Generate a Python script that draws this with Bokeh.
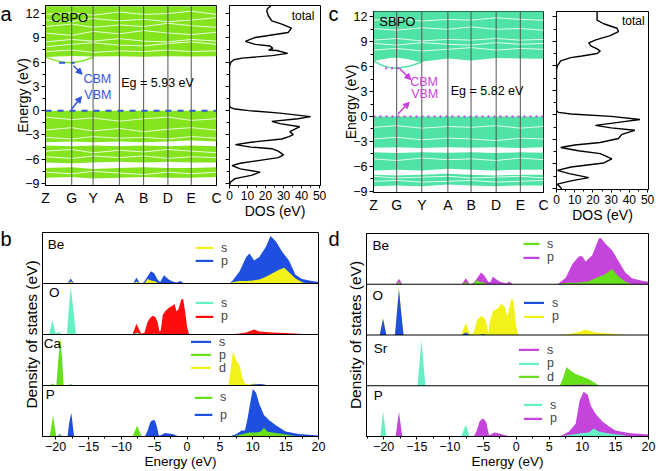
from bokeh.plotting import figure
from bokeh.layouts import row, column
from bokeh.models import (Span, Label, Arrow, NormalHead, SingleIntervalTicker, FixedTicker,
                          Legend, LegendItem, Range1d)
from bokeh.embed import file_html
from bokeh.resources import INLINE

FONT = "Liberation Sans"

# ------------------------------------------------------------------ data
kpoint_labels = ["Z", "G", "Y", "A", "B", "D", "E", "C"]
kpath_cbpo = [0, 27, 49, 76, 101, 126, 150, 176]
kpath_sbpo = [0, 24, 50, 77, 101, 127, 152, 176]

# band manifolds (lower / upper edge at each k point), eV
cbpo_blocks_lo = [[-3.9, -3.8, -3.9, -3.8, -3.9, -3.8, -3.7, -3.8],
                  [-6.4, -6.5, -6.4, -6.3, -6.4, -6.3, -6.4, -6.4],
                  [-8.3, -8.2, -8.4, -8.3, -8.2, -8.3, -8.3, -8.2],
                  [6.62, 6.75, 6.70, 6.72, 6.68, 6.72, 6.70, 6.72]]
cbpo_blocks_hi = [[0, 0, 0, 0, 0, 0, 0, 0],
                  [-4.3, -4.4, -4.3, -4.4, -4.3, -4.4, -4.3, -4.4],
                  [-7.1, -7.0, -7.2, -7.1, -7.0, -7.1, -7.1, -7.0],
                  [12.9, 12.9, 12.9, 12.9, 12.9, 12.9, 12.9, 12.9]]
cbpo_gaps = [[7.3, 7.5, 7.2, 7.4, 7.3, 7.5, 7.3, 7.4],
             [7.9, 8.2, 8.4, 8.1, 8.0, 8.3, 8.5, 8.2],
             [8.5, 8.8, 8.6, 8.9, 8.6, 8.5, 8.8, 8.6],
             [9.6, 9.3, 9.8, 9.5, 9.9, 9.6, 9.4, 9.7],
             [10.4, 10.7, 10.3, 10.6, 10.4, 10.8, 10.5, 10.3],
             [11.2, 11.0, 11.4, 11.1, 11.3, 11.0, 11.2, 11.5],
             [11.9, 12.1, 11.8, 12.2, 11.9, 12.0, 12.3, 11.9],
             [-0.8, -1.1, -0.9, -1.3, -1.0, -0.8, -1.2, -1.0],
             [-2.4, -2.1, -2.5, -2.2, -2.6, -2.3, -2.1, -2.4],
             [-3.3, -3.5, -3.2, -3.4, -3.3, -3.5, -3.2, -3.4],
             [-5.0, -4.8, -5.2, -4.9, -5.1, -4.8, -5.0, -5.2],
             [-5.7, -5.9, -5.6, -5.8, -5.6, -5.9, -5.7, -5.8],
             [-7.6, -7.8, -7.5, -7.7, -7.9, -7.6, -7.8, -7.6]]
cbpo_cbm_k = [0, 9, 18, 27, 38, 49]
cbpo_cbm_E = [6.62, 6.25, 6.0, 5.93, 6.15, 6.6]
cbpo_gap = 5.93

sbpo_blocks_lo = [[-3.75, -3.7, -3.8, -3.7, -3.75, -3.7, -3.8, -3.7],
                  [-6.5, -6.4, -6.5, -6.3, -6.4, -6.5, -6.4, -6.4],
                  [-8.4, -8.3, -8.4, -8.2, -8.3, -8.4, -8.3, -8.3],
                  [6.75, 7.2, 6.6, 7.0, 6.75, 7.05, 7.0, 6.95]]
sbpo_blocks_hi = [[0, 0, 0, 0, 0, 0, 0, 0],
                  [-4.3, -4.4, -4.3, -4.35, -4.3, -4.4, -4.3, -4.35],
                  [-7.0, -7.1, -7.0, -6.9, -7.0, -7.1, -7.0, -7.0],
                  [12.75, 12.75, 12.75, 12.75, 12.75, 12.75, 12.75, 12.75]]
sbpo_gaps = [[8.0, 8.2, 7.9, 8.1, 8.3, 8.0, 8.2, 8.1],
             [8.8, 8.6, 8.9, 8.7, 8.6, 8.9, 8.7, 8.8],
             [9.2, 9.4, 9.1, 9.3, 9.2, 9.4, 9.2, 9.3],
             [10.6, 10.4, 10.7, 10.5, 10.8, 10.5, 10.6, 10.4],
             [11.6, 11.8, 11.5, 11.7, 11.6, 11.9, 11.7, 11.6],
             [-1.3, -1.1, -1.4, -1.2, -1.3, -1.1, -1.4, -1.2],
             [-2.7, -2.5, -2.8, -2.6, -2.7, -2.9, -2.6, -2.7],
             [-5.1, -5.3, -5.0, -5.2, -5.1, -5.3, -5.0, -5.2],
             [-7.2, -7.4, -7.3, -7.2, -7.4, -7.3, -7.2, -7.4],
             [-7.8, -7.7, -7.9, -7.8, -7.7, -7.9, -7.8, -7.7]]
sbpo_cbm_k = [0, 8, 16, 24, 37, 50]
sbpo_cbm_E = [6.7, 6.2, 5.92, 5.82, 6.05, 6.55]
sbpo_lens_E = [6.75, 7.0, 7.15, 7.2, 7.0, 6.6]
sbpo_gap = 5.82

# total DOS (energy, DOS)
cbpo_dos_E = [12.96, 12.6, 12.3, 11.7, 11.1, 10.7, 10.2, 9.67, 9.05, 8.56, 8.2, 8.0, 7.7, 7.5, 7.44,
              7.08, 6.8, 6.5, 6.3, 6.0, 5.5, 0.6, 0.4, 0.2, 0.0, -0.3, -0.74, -1.0, -1.32, -1.6,
              -1.98, -2.3, -2.6, -2.96, -3.2, -3.5, -3.9, -4.2, -4.5, -4.7, -5.0, -5.47, -5.8,
              -6.2, -6.5, -6.8, -7.2, -7.6, -8.0, -8.4, -8.85, -9.2]
cbpo_dos = [23, 21, 20.7, 21.6, 23.5, 29, 34.4, 32.6, 14.3, 8.8, 14.3, 22.5, 24, 21.7, 26.2,
            32.3, 23.5, 7, 2.4, 0.8, 0, 0, 0.5, 3, 10.7, 28, 45, 38, 23.5, 28,
            39, 36, 33.5, 35.4, 33, 29, 12, 3.3, 12, 23.5, 27, 30, 27,
            15, 6, 1.4, 6, 17, 12, 3, 0.5, 0]
sbpo_dos_E = [12.7, 12.0, 11.6, 11.15, 10.6, 10.2, 9.7, 9.2, 8.8, 8.4, 8.08, 7.8, 7.5, 7.2, 7.0,
              6.6, 6.0, 5.5, 0.5, 0.3, 0.1, -0.2, -0.58, -0.9, -1.3, -1.6, -1.9, -2.4, -2.9,
              -3.4, -3.7, -4.0, -4.4, -4.75, -5.4, -5.9, -6.4, -6.8, -7.2, -7.7, -8.1, -8.5, -9.1]
sbpo_dos = [22.3, 22.3, 22.3, 25.9, 33.2, 34, 29.5, 22, 17.7, 19, 22.3, 24, 22.3, 14, 7.8,
            2.3, 0.5, 0, 0, 1, 8, 30, 45.8, 35, 21.4, 30, 43, 35.9, 34,
            24, 10, 2.3, 12, 24, 30.4, 25.9, 8, 0.5, 7, 17.7, 8, 0.5, 3]

# projected DOS, panel b (CBPO)
b_be_s_E = [-22, -18.2, -17.7, -17.2, -8.2, -7.7, -7.2, -6.5, -6.0, -5.5, -4.8, -4.3, 6.5, 7, 8, 9, 10,
            11, 12, 13, 14, 14.8, 15.5, 16.5, 17.5, 18, 20]
b_be_s = [0, 0, 0.04, 0, 0, 0.04, 0, 0, 0.09, 0.06, 0.04, 0, 0, 0.03, 0.05, 0.05, 0.06,
          0.08, 0.13, 0.2, 0.27, 0.31, 0.22, 0.1, 0.03, 0, 0]
b_be_p_E = [-22, -18.2, -17.7, -17.2, -8.2, -7.7, -7.2, -6.6, -6.0, -5.5, -5.0, -4.5, -4.1, -3.5, -2.8,
            -2.2, -1.6, -1.0, -0.5, 6.5, 7, 8, 9, 9.5, 10.2, 11, 12, 12.7, 13.5, 14.5, 15.5, 16.5,
            17.5, 19, 20]
b_be_p = [0, 0, 0.10, 0, 0, 0.12, 0, 0.02, 0.14, 0.24, 0.2, 0.08, 0.03, 0.16, 0.08,
          0.04, 0.02, 0.05, 0, 0, 0.07, 0.24, 0.52, 0.59, 0.45, 0.52, 0.72, 0.93, 0.83, 0.62, 0.45, 0.17,
          0.09, 0.05, 0.03]
b_o_s_E = [-22, -21.0, -20.5, -20.0, -19.6, -19.3, -19.0, -18.3, -18.0, -17.7, -17.4, -16.9, -8.3, -7.6,
           -7.0, -5.5, -5.0, -4.5, 20]
b_o_s = [0, 0, 0.28, 0.02, 0.05, 0.03, 0, 0, 0.5, 0.93, 0.6, 0, 0, 0.04,
         0, 0, 0.02, 0, 0]
b_o_p_E = [-22, -8.3, -7.7, -7.0, -6.5, -6.0, -5.6, -5.2, -4.8, -4.5, -4.2, -4.0, -3.7, -3.3, -2.8, -2.3,
           -1.9, -1.6, -1.3, -0.9, -0.6, -0.3, 0.0, 0.3, 6.5, 8, 9, 10.2, 11, 13, 15, 17, 18, 20]
b_o_p = [0, 0, 0.21, 0.02, 0.03, 0.25, 0.33, 0.37, 0.34, 0.25, 0.06, 0.08, 0.38, 0.46, 0.52, 0.56,
         0.6, 0.45, 0.5, 0.68, 0.7, 0.45, 0.15, 0, 0, 0.02, 0.04, 0.1, 0.06, 0.04, 0.03, 0.015, 0, 0]
b_ca_s_E = [-22, 9.0, 10, 11, 11.8, 12.2, 20]
b_ca_s = [0, 0, 0.02, 0.03, 0.02, 0, 0]
b_ca_p_E = [-22, -21.0, -20.5, -20.0, -19.9, -19.6, -19.3, -19.0, -18.8, -18.0, -17.7, -17.4, 20]
b_ca_p = [0, 0, 0.04, 0, 0, 0.5, 0.92, 0.5, 0, 0, 0.04, 0, 0]
b_ca_d_E = [-22, 6.3, 6.6, 7.0, 7.5, 8.0, 8.4, 8.8, 9.5, 10.2, 11, 11.6, 12.2, 20]
b_ca_d = [0, 0, 0.3, 0.67, 0.48, 0.4, 0.15, 0.04, 0.02, 0.04, 0.03, 0.02, 0, 0]
b_p_s_E = [-22, -20.9, -20.4, -19.9, -19.7, -19.4, -19.1, -8.3, -7.6, -6.9, 6.5, 7.5, 8.5, 9.5, 10.5,
           11.2, 11.7, 12.2, 13, 14, 15, 16, 17, 20]
b_p_s = [0, 0, 0.41, 0, 0, 0.04, 0, 0, 0.21, 0, 0, 0.02, 0.05, 0.08, 0.08,
         0.1, 0.17, 0.1, 0.08, 0.06, 0.04, 0.02, 0, 0]
b_p_p_E = [-22, -19.8, -19.4, -19.0, -18.2, -17.9, -17.6, -17.2, -6.4, -6.0, -5.6, -5.3, -4.9, -4.6,
           -4.3, -3.9, -3.4, -2.8, -2.2, -1.6, -1.2, 6.5, 7.5, 8.3, 8.8, 9.2, 9.6, 10.0, 10.5, 11.0,
           11.7, 12.5, 13.5, 15, 17, 20]
b_p_p = [0, 0, 0.05, 0, 0, 0.3, 0.46, 0, 0, 0.12, 0.28, 0.32, 0.32, 0.2,
         0.02, 0.03, 0.07, 0.06, 0.05, 0.02, 0, 0, 0.05, 0.12, 0.12, 0.35, 0.65, 0.93, 0.86, 0.63,
         0.42, 0.32, 0.22, 0.1, 0.05, 0.02]

# projected DOS, panel d (SBPO)
d_be_s_E = [-22.6, -18.2, -17.7, -17.2, -8.2, -7.6, -7.0, -6.5, -6.0, -5.5, -4.8, -4.3, 6.5, 7, 8, 9, 10,
            11, 12, 13, 13.5, 14.5, 15.5, 16.5, 17.5, 20]
d_be_s = [0, 0, 0.04, 0, 0, 0.04, 0, 0, 0.08, 0.05, 0.03, 0, 0, 0.02, 0.03, 0.03, 0.04,
          0.06, 0.12, 0.17, 0.2, 0.3, 0.15, 0.05, 0, 0]
d_be_p_E = [-22.6, -18.2, -17.7, -17.2, -8.2, -7.6, -7.0, -6.5, -6.0, -5.3, -4.8, -4.2, -3.9, -3.5, -2.8,
            -2.2, -1.5, -1.0, -0.5, 6.3, 7.5, 8.5, 9.5, 10.0, 10.5, 11.5, 12.5, 12.8, 13.5, 14.5, 15.5,
            16.5, 17.5, 19, 20]
d_be_p = [0, 0, 0.11, 0, 0, 0.12, 0, 0.02, 0.1, 0.23, 0.17, 0.05, 0.04, 0.15, 0.08,
          0.04, 0.02, 0.05, 0, 0, 0.13, 0.4, 0.55, 0.55, 0.45, 0.57, 0.9, 0.91, 0.8, 0.67, 0.45,
          0.23, 0.12, 0.07, 0.05]
d_o_s_E = [-22.6, -20.6, -20.1, -19.6, -18.3, -18.0, -17.7, -17.4, -17.0, -8.2, -7.6, -7.0, -5.5, -5.0,
           -4.5, 20]
d_o_s = [0, 0, 0.32, 0, 0, 0.45, 0.9, 0.5, 0, 0, 0.05, 0, 0, 0.02, 0, 0]
d_o_p_E = [-22.6, -20.6, -20.1, -19.6, -18.3, -17.7, -17.0, -8.3, -7.6, -7.0, -6.4, -5.9, -5.2, -4.6, -4.2,
           -3.9, -3.5, -2.8, -2.2, -1.7, -1.3, -1.0, -0.7, -0.4, 0.0, 0.3, 6.5, 8, 9.5, 10.5, 12, 14,
           16, 17, 20]
d_o_p = [0, 0, 0.34, 0, 0, 0.93, 0, 0, 0.24, 0.02, 0.04, 0.3, 0.38, 0.3, 0.04,
         0.3, 0.47, 0.52, 0.62, 0.55, 0.36, 0.55, 0.72, 0.68, 0.2, 0, 0, 0.02, 0.06, 0.11, 0.05, 0.03,
         0.01, 0, 0]
d_sr_s_E = [-22.6, 7.5, 9, 11, 12, 20]
d_sr_s = [0, 0, 0.02, 0.02, 0, 0]
d_sr_p_E = [-22.6, -14.9, -14.6, -14.3, -14.0, -13.7, 20]
d_sr_p = [0, 0, 0.45, 0.9, 0.45, 0, 0]
d_sr_d_E = [-22.6, 6.6, 7.0, 7.6, 8.2, 9.0, 10.0, 11.0, 12.0, 12.5, 20]
d_sr_d = [0, 0, 0.12, 0.37, 0.3, 0.23, 0.18, 0.13, 0.05, 0, 0]
d_p_s_E = [-22.6, -20.5, -20.1, -19.6, -8.3, -7.6, -7.0, 6.5, 8, 9, 10, 11, 11.7, 12.5, 14, 16, 17, 20]
d_p_s = [0, 0, 0.5, 0, 0, 0.23, 0, 0, 0.03, 0.05, 0.07, 0.08, 0.16, 0.1, 0.06, 0.03, 0, 0]
d_p_p_E = [-22.6, -18.2, -17.7, -17.2, -6.4, -6.0, -5.5, -5.0, -4.5, -4.1, -3.8, -3.3, -2.8, -2.3, -1.5,
           -1.0, 6.5, 7, 8, 9, 9.6, 10.2, 10.8, 11.3, 12, 13, 14, 15, 17, 20]
d_p_p = [0, 0, 0.49, 0, 0, 0.1, 0.3, 0.36, 0.28, 0.03, 0.04, 0.08, 0.07, 0.05, 0.02,
         0, 0, 0.03, 0.1, 0.25, 0.71, 0.88, 0.83, 0.6, 0.45, 0.3, 0.2, 0.12, 0.07, 0.04]

# ------------------------------------------------------------------ colours
GREEN_A = "#84e41e"
GREEN_C = "#4fe3a6"
BLUE = "#1f4fe0"
YELLOW = "#f2f21a"
RED = "#ff0d0d"
AQUA = "#66f0c6"
LIME = "#66e01a"
MAGENTA = "#c444dc"
ANN_A = "#3358dd"
ANN_C = "#cc3ee0"


def style_axis(ax, tick_font="12px", label_font="14px"):
    ax.axis_line_color = "black"
    ax.major_tick_line_color = "black"
    ax.minor_tick_line_color = "black"
    ax.major_label_text_font = FONT
    ax.major_label_text_font_size = tick_font
    ax.major_label_text_color = "black"
    ax.axis_label_text_font = FONT
    ax.axis_label_text_font_size = label_font
    ax.axis_label_text_font_style = "normal"
    ax.axis_label_text_color = "black"


def hide_tick_labels(ax):
    ax.major_label_text_alpha = 0
    ax.major_label_text_font_size = "0px"
    ax.major_label_standoff = 0


def base_fig(w, h, left, right, top, bottom, xr, yr, axes=True, title=None):
    kw = {} if axes else dict(x_axis_location=None, y_axis_location=None)
    p = figure(width=w, height=h, x_range=Range1d(*xr), y_range=Range1d(*yr),
               output_backend="svg", toolbar_location=None, title=title, **kw)
    try:
        p.frame_align = False      # keep every frame where its own borders put it
    except Exception:
        pass
    p.min_border_left = left
    p.min_border_right = right
    p.min_border_top = top
    p.min_border_bottom = bottom
    p.xgrid.visible = False
    p.ygrid.visible = False
    p.outline_line_color = "black"
    p.outline_line_alpha = 1.0
    p.outline_line_width = 1
    p.background_fill_color = "white"
    p.border_fill_color = "white"
    return p


def letter_fig(txt, w, h):
    """Narrow strip whose title is the panel letter."""
    p = base_fig(w, h, 0, 0, 0, 0, (0, 1), (0, 1), axes=False, title=txt)
    p.outline_line_color = None
    p.title.text_font = FONT
    p.title.text_font_size = "20px"
    p.title.text_font_style = "normal"
    p.title.text_color = "black"
    p.title.align = "left"
    p.title.offset = 0
    p.title.standoff = 0
    return p


def band_fig(w, h, borders, yr, kx, lo, hi, gaps, cbm_k, cbm_E, lens_E, color, ann,
             gap, name, ann_pos, dash):
    p = base_fig(w, h, *borders, (kx[0], kx[-1]), yr)
    for a, b in zip(lo, hi):
        p.varea(x=kx, y1=a, y2=b, fill_color=color)
    p.multi_line(xs=[kx] * len(gaps), ys=gaps, line_color="white", line_width=1.0, line_alpha=0.85)
    p.line(cbm_k, cbm_E, line_color=color, line_width=1.5)
    if lens_E is not None:
        p.line(cbm_k, lens_E, line_color=color, line_width=1.5)
    for k in kx[1:-1]:
        p.add_layout(Span(location=k, dimension="height", line_color="#555555", line_width=1))
    p.add_layout(Span(location=0, dimension="width", line_color=ann, line_width=2, line_dash=dash))
    p.line([cbm_k[2] - 4, cbm_k[3] + 3], [gap, gap], line_color=ann, line_width=2, line_dash=dash)
    (ca, va, cbm_t, vbm_t, eg_t, nm_t) = ann_pos
    for (xs, ys, xe, ye) in (ca, va):
        p.add_layout(Arrow(end=NormalHead(size=6, line_color=ann, fill_color=ann),
                           x_start=xs, y_start=ys, x_end=xe, y_end=ye,
                           line_color=ann, line_width=1.5))
    p.add_layout(Label(x=cbm_t[0], y=cbm_t[1], text="CBM", text_font=FONT, text_font_size="12.5px",
                       text_color=ann, text_baseline="middle"))
    p.add_layout(Label(x=vbm_t[0], y=vbm_t[1], text="VBM", text_font=FONT, text_font_size="12.5px",
                       text_color=ann, text_baseline="middle"))
    p.add_layout(Label(x=eg_t[0], y=eg_t[1], text="Eg = %.2f eV" % gap, text_font=FONT,
                       text_font_size="12.5px", text_color="black", text_baseline="middle"))
    p.add_layout(Label(x=nm_t[0], y=nm_t[1], text=name, text_font=FONT, text_font_size="13px",
                       text_color="black", text_baseline="middle"))
    p.xaxis.ticker = FixedTicker(ticks=kx)
    p.xaxis.major_label_overrides = {k: s for k, s in zip(kx, kpoint_labels)}
    p.xaxis.major_tick_out = 0
    p.xaxis.major_tick_in = 0
    p.xaxis.minor_tick_out = 0
    p.xaxis.major_label_standoff = 4
    style_axis(p.xaxis[0], tick_font="14px")
    p.yaxis.ticker = SingleIntervalTicker(interval=3, num_minor_ticks=2)
    p.yaxis.major_tick_out = 4
    p.yaxis.major_tick_in = 0
    p.yaxis.minor_tick_out = 3
    p.yaxis.minor_tick_in = 0
    p.yaxis.major_label_standoff = 2
    p.yaxis.axis_label = "Energy (eV)"
    p.yaxis.axis_label_standoff = -9
    style_axis(p.yaxis[0], tick_font="12.5px", label_font="14px")
    return p


def dos_fig(w, h, borders, yr, E, D, total_pos):
    p = base_fig(w, h, *borders, (0, 50.5), yr)
    p.line(D, E, line_color="black", line_width=1.4)
    p.add_layout(Label(x=total_pos[0], y=total_pos[1], text="total", text_font=FONT,
                       text_font_size="12px", text_color="black", text_baseline="middle"))
    p.xaxis.ticker = SingleIntervalTicker(interval=10, num_minor_ticks=2)
    p.xaxis.major_tick_out = 3
    p.xaxis.major_tick_in = 0
    p.xaxis.minor_tick_out = 2
    p.xaxis.minor_tick_in = 0
    p.xaxis.major_label_standoff = 2
    p.xaxis.axis_label = "DOS (eV)"
    p.xaxis.axis_label_standoff = 0
    style_axis(p.xaxis[0], tick_font="12px", label_font="14px")
    p.yaxis.ticker = SingleIntervalTicker(interval=3, num_minor_ticks=2)
    p.yaxis.major_tick_out = 4
    p.yaxis.major_tick_in = 0
    p.yaxis.minor_tick_out = 3
    p.yaxis.minor_tick_in = 0
    style_axis(p.yaxis[0])
    hide_tick_labels(p.yaxis[0])
    return p


def pdos_fig(w, h, borders, xr, elements, name_pos, legend_x, gw):
    p = base_fig(w, h, *borders, xr, (0, 4))
    for i, (el, orbs, draw_order, leg_centers) in enumerate(elements):
        off = 3 - i
        rends = {}
        for key in draw_order:
            col, E, V = orbs[key]
            rends[key] = p.varea(x=E, y1=[off] * len(E), y2=[off + v for v in V], fill_color=col)
        for key, yc in zip(orbs.keys(), leg_centers):
            leg = Legend(items=[LegendItem(label=key, renderers=[rends[key]])],
                         location=(legend_x[i], yc - 6.7),
                         background_fill_alpha=0, border_line_alpha=0, padding=0, margin=0,
                         glyph_width=gw[i], glyph_height=3, label_standoff=6,
                         label_text_font=FONT, label_text_font_size="12.5px",
                         label_height=10, spacing=0)
            p.add_layout(leg)
        p.add_layout(Label(x=name_pos[i][0], y=off + name_pos[i][1], text=el, text_font=FONT,
                           text_font_size="13.5px", text_color="black", text_baseline="middle"))
        if i > 0:
            p.add_layout(Span(location=off + 1, dimension="width", line_color="black", line_width=1))
    p.xaxis.ticker = SingleIntervalTicker(interval=5, num_minor_ticks=2)
    p.xaxis.major_tick_out = 3
    p.xaxis.major_tick_in = 0
    p.xaxis.minor_tick_out = 2
    p.xaxis.minor_tick_in = 0
    p.xaxis.major_label_standoff = 2
    p.xaxis.axis_label = "Energy (eV)"
    p.xaxis.axis_label_standoff = 0
    style_axis(p.xaxis[0], tick_font="12.5px", label_font="13.5px")
    p.yaxis.ticker = FixedTicker(ticks=[], minor_ticks=[])
    p.yaxis.major_tick_out = 0
    p.yaxis.axis_label = "Density of states (eV)"
    p.yaxis.axis_label_standoff = 3
    style_axis(p.yaxis[0], label_font="15.5px")
    hide_tick_labels(p.yaxis[0])
    return p


# ------------------------------------------------------------------ panel a / c
la = letter_fig("a", 12, 225)
fa = band_fig(209, 225, (26, 5, 5, 40), (-9.25, 13.0), kpath_cbpo, cbpo_blocks_lo, cbpo_blocks_hi,
              cbpo_gaps, cbpo_cbm_k, cbpo_cbm_E, None, GREEN_A, ANN_A, cbpo_gap, "CBPO",
              ((28.7, 5.55, 37.7, 4.5), (27, 0.2, 37, 1.73), (39, 3.95), (40, 1.97), (78, 3.37),
               (6, 11.55)), "dashed")
fa_dos = dos_fig(107, 225, (8, 8, 5, 40), (-9.25, 13.0), cbpo_dos_E, cbpo_dos, (34.5, 11.7))

lc = letter_fig("c", 12, 225)
fc = band_fig(208, 225, (25, 5, 11, 33), (-9.15, 12.65), kpath_sbpo, sbpo_blocks_lo, sbpo_blocks_hi,
              sbpo_gaps, sbpo_cbm_k, sbpo_cbm_E, sbpo_lens_E, GREEN_C, ANN_C, sbpo_gap, "SBPO",
              ((27, 5.78, 38.7, 4.44), (25.3, 0.3, 37, 1.72), (38, 4.15), (39, 2.66), (80, 3.08),
               (6, 11.43)), "dotted")
fc_dos = dos_fig(110, 225, (8, 10, 11, 33), (-9.15, 12.65), sbpo_dos_E, sbpo_dos, (35.9, 11.5))

# ------------------------------------------------------------------ panel b / d
# legend centres are in screen px above the bottom of each PDOS frame
b_elements = [
    ("Be", {"s": (YELLOW, b_be_s_E, b_be_s), "p": (BLUE, b_be_p_E, b_be_p)}, ["p", "s"],
     [188.0, 175.0]),
    ("O", {"s": (AQUA, b_o_s_E, b_o_s), "p": (RED, b_o_p_E, b_o_p)}, ["p", "s"],
     [133.0, 119.5]),
    ("Ca", {"s": (BLUE, b_ca_s_E, b_ca_s), "p": (LIME, b_ca_p_E, b_ca_p),
            "d": (YELLOW, b_ca_d_E, b_ca_d)}, ["d", "p", "s"], [94.0, 81.0, 68.0]),
    ("P", {"s": (LIME, b_p_s_E, b_p_s), "p": (BLUE, b_p_p_E, b_p_p)}, ["p", "s"],
     [38.3, 21.0]),
]
lb = letter_fig("b", 12, 246)
fb = pdos_fig(316, 246, (30, 10, 7, 35), (-22, 20), b_elements,
              [(-21.2, 0.76), (-21.0, 0.83), (-21.8, 0.82), (-21.5, 0.83)],
              [151, 151, 146, 150], [22, 22, 25, 22])

d_elements = [
    ("Be", {"s": (LIME, d_be_s_E, d_be_s), "p": (MAGENTA, d_be_p_E, d_be_p)}, ["p", "s"],
     [192.0, 178.5]),
    ("O", {"s": (BLUE, d_o_s_E, d_o_s), "p": (YELLOW, d_o_p_E, d_o_p)}, ["p", "s"],
     [133.0, 119.5]),
    ("Sr", {"s": (MAGENTA, d_sr_s_E, d_sr_s), "p": (AQUA, d_sr_p_E, d_sr_p),
            "d": (LIME, d_sr_d_E, d_sr_d)}, ["d", "p", "s"], [86.0, 72.5, 59.0]),
    ("P", {"s": (AQUA, d_p_s_E, d_p_s), "p": (MAGENTA, d_p_p_E, d_p_p)}, ["p", "s"],
     [31.0, 17.5]),
]
ld = letter_fig("d", 12, 246)
fd = pdos_fig(318, 246, (26, 10, 8, 34), (-22.6, 20), d_elements,
              [(-21.7, 0.77), (-21.7, 0.77), (-21.5, 0.73), (-21.5, 0.8)],
              [155, 155, 150, 155], [20, 25, 25, 23])

layout = column(row(la, fa, fa_dos, lc, fc, fc_dos), row(lb, fb, ld, fd))

open("out.html", "w").write(file_html(layout, INLINE))
